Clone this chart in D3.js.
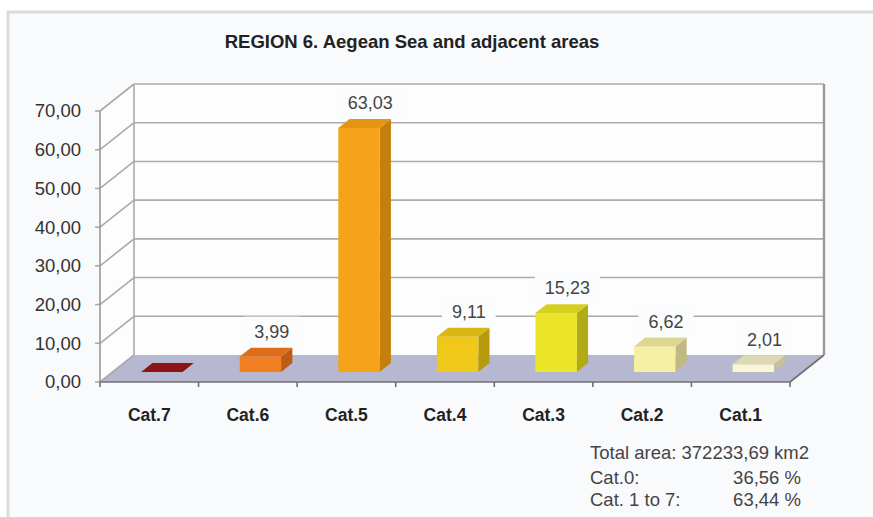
<!DOCTYPE html>
<html>
<head>
<meta charset="utf-8">
<script src="https://cdn.jsdelivr.net/npm/d3@7"></script>
<style>
  body { margin: 0; background: #fff; }
  svg { display: block; font-family: "Liberation Sans", Arial, sans-serif; }
</style>
</head>
<body>
<div id="chart"></div>
<script>
// data
const categories = ["Cat.7", "Cat.6", "Cat.5", "Cat.4", "Cat.3", "Cat.2", "Cat.1"];
const values = [0.01, 3.99, 63.03, 9.11, 15.23, 6.62, 2.01];
const yTicks = [0, 10, 20, 30, 40, 50, 60, 70];
const frontColors = ["#9a1818", "#f27e22", "#f5a318", "#f0c81a", "#ebe52a", "#f5f0a2", "#f8f6d6"];
const topColors = ["#8c1414", "#e06c18", "#e69414", "#dbb612", "#d6cf22", "#dcd690", "#dcd8b0"];
const sideColors = ["#7a1010", "#bd5c12", "#c4800e", "#b89a0e", "#b3ab16", "#c0ba82", "#c4c09c"];
const title = "REGION 6. Aegean Sea and adjacent areas";
const infoLabels = ["Total area: 372233,69 km2", "Cat.0:", "Cat. 1 to 7:"];
const infoValues = ["", "36,56 %", "63,44 %"];

const width = 873, height = 517;
const DX = 34, DY = -27;          // depth of the floor / walls
const barFront = 0.37, barDepth = 0.33;

const svg = d3.select('#chart').append('svg')
    .attr('width', width)
    .attr('height', height);

// frame
svg.append('rect')
    .attr('x', 8).attr('y', 12)
    .attr('width', 900).attr('height', 540)
    .attr('fill', '#f9fafc')
    .attr('stroke', '#dcdcdc')
    .attr('stroke-width', 3);

svg.append('text')
    .attr('x', 412).attr('y', 42)
    .attr('dy', '0.35em')
    .attr('text-anchor', 'middle')
    .attr('font-size', 18.5)
    .attr('font-weight', 'bold')
    .attr('fill', '#222')
    .text(title);

const x = d3.scaleBand()
    .domain(categories)
    .range([100, 790])
    .padding(0);

const y = d3.scaleLinear()
    .domain([0, 70])
    .range([382, 111]);

const x0 = x.range()[0], x1 = x.range()[1];
const yBot = y(0), yTop = y(70);

// walls
svg.append('rect')
    .attr('x', x0 + DX).attr('y', yTop + DY)
    .attr('width', x1 - x0).attr('height', yBot - yTop)
    .attr('fill', '#fdfdfd');
svg.append('polygon')
    .attr('points', [[x0, yBot], [x0 + DX, yBot + DY], [x0 + DX, yTop + DY], [x0, yTop]].join(' '))
    .attr('fill', '#fdfdfd');

// floor
svg.append('polygon')
    .attr('points', [[x0, yBot], [x0 + DX, yBot + DY], [x1 + DX, yBot + DY], [x1, yBot]].join(' '))
    .attr('fill', '#b6b7d1');

const grid = svg.append('g')
    .attr('stroke', '#aaaaaa')
    .attr('stroke-width', 1.6);

grid.selectAll('.back')
    .data(yTicks.filter(t => t > 0))
    .enter().append('line')
    .attr('x1', x0 + DX).attr('x2', x1 + DX)
    .attr('y1', d => y(d) + DY).attr('y2', d => y(d) + DY);

grid.selectAll('.side')
    .data(yTicks)
    .enter().append('line')
    .attr('x1', x0 - 5).attr('x2', x0)
    .attr('y1', d => y(d)).attr('y2', d => y(d));

grid.selectAll('.diag')
    .data(yTicks)
    .enter().append('line')
    .attr('x1', x0).attr('x2', x0 + DX)
    .attr('y1', d => y(d)).attr('y2', d => y(d) + DY);

grid.append('line')
    .attr('x1', x0 + DX).attr('x2', x0 + DX)
    .attr('y1', yBot + DY).attr('y2', yTop + DY);
grid.append('line')
    .attr('x1', x1 + DX).attr('x2', x1 + DX)
    .attr('y1', yBot + DY).attr('y2', yTop + DY)
    .attr('stroke', '#999')
    .attr('stroke-width', 2.4);
grid.append('line')
    .attr('x1', x0).attr('x2', x0)
    .attr('y1', yBot).attr('y2', yTop)
    .attr('stroke', '#999');

// floor front edge and category ticks
const edge = svg.append('g')
    .attr('stroke', '#707070')
    .attr('stroke-width', 1.6);
edge.append('line')
    .attr('x1', x0).attr('x2', x1)
    .attr('y1', yBot).attr('y2', yBot);
edge.append('line')
    .attr('x1', x1).attr('x2', x1 + DX)
    .attr('y1', yBot).attr('y2', yBot + DY);
edge.selectAll('.tick')
    .data(categories.map(c => x(c)).concat([x1]))
    .enter().append('line')
    .attr('x1', d => d).attr('x2', d => d)
    .attr('y1', yBot).attr('y2', yBot + 5);

// y labels
svg.append('g')
    .selectAll('text')
    .data(yTicks)
    .enter().append('text')
    .attr('x', 81)
    .attr('y', d => y(d))
    .attr('dy', '0.35em')
    .attr('text-anchor', 'end')
    .attr('font-size', 18.5)
    .attr('fill', '#333')
    .text(d => d3.format('.2f')(d).replace('.', ','));

// bars
const bw = x.bandwidth() * 0.42;
const fdx = barFront * DX, fdy = barFront * DY;
const ddx = barDepth * DX, ddy = barDepth * DY;

const bars = categories.map((c, i) => {
    const fx = x(c) + (x.bandwidth() - bw) / 2 + fdx;
    const fb = y(0) + fdy;
    const ft = y(values[i]) + fdy;
    return { c, i, v: values[i], fx, fb, ft };
});

const barG = svg.append('g')
    .selectAll('g')
    .data(bars)
    .enter().append('g');

barG.append('polygon')
    .attr('points', d => [[d.fx + bw, d.ft], [d.fx + bw + ddx, d.ft + ddy], [d.fx + bw + ddx, d.fb + ddy], [d.fx + bw, d.fb]].join(' '))
    .attr('fill', d => sideColors[d.i]);
barG.append('rect')
    .attr('x', d => d.fx)
    .attr('y', d => d.ft)
    .attr('width', bw)
    .attr('height', d => Math.max(0, d.fb - d.ft))
    .attr('fill', d => frontColors[d.i]);
barG.append('polygon')
    .attr('points', d => [[d.fx, d.ft], [d.fx + ddx, d.ft + ddy], [d.fx + bw + ddx, d.ft + ddy], [d.fx + bw, d.ft]].join(' '))
    .attr('fill', d => topColors[d.i]);

// value labels with a pale box behind them
const lab = svg.append('g')
    .selectAll('g')
    .data(bars.filter(d => d.v >= 0.5))
    .enter().append('g')
    .attr('transform', d => 'translate(' + (d.fx + bw / 2 + ddx) + ',' + (d.ft + ddy - 16) + ')');

lab.append('rect')
    .attr('x', -28).attr('y', -15)
    .attr('width', 56).attr('height', 30)
    .attr('fill', '#fbfcfd');
lab.append('text')
    .attr('dy', '0.35em')
    .attr('text-anchor', 'middle')
    .attr('font-size', 18)
    .attr('fill', '#444')
    .text(d => d3.format('.2f')(d.v).replace('.', ','));
lab.each(function () {
    const g = d3.select(this);
    const w = g.select('text').node().getComputedTextLength();
    g.select('rect').attr('x', -w / 2 - 10).attr('width', w + 20);
});

// category labels
svg.append('g')
    .selectAll('text')
    .data(categories)
    .enter().append('text')
    .attr('x', d => x(d) + x.bandwidth() / 2)
    .attr('y', 415)
    .attr('dy', '0.35em')
    .attr('text-anchor', 'middle')
    .attr('font-size', 17.5)
    .attr('font-weight', 'bold')
    .attr('fill', '#222')
    .text(d => d);

// info block
const info = svg.append('g')
    .attr('font-size', 18.5)
    .attr('fill', '#444');
info.selectAll('.lbl')
    .data(infoLabels)
    .enter().append('text')
    .attr('x', 590)
    .attr('y', (d, i) => [453, 478, 500][i])
    .attr('dy', '0.35em')
    .text(d => d);
info.selectAll('.val')
    .data(infoValues)
    .enter().append('text')
    .attr('x', 801)
    .attr('y', (d, i) => [453, 478, 500][i])
    .attr('dy', '0.35em')
    .attr('text-anchor', 'end')
    .text(d => d);
</script>
</body>
</html>
